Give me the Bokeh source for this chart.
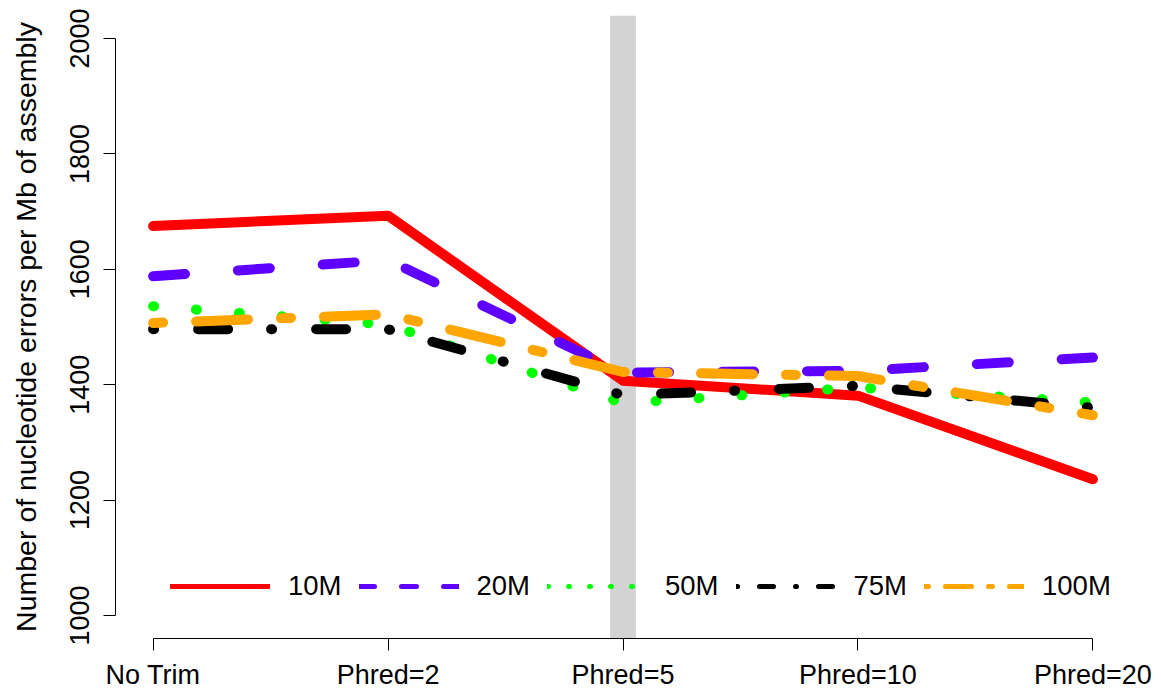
from bokeh.plotting import figure
from bokeh.models import Range1d, FixedTicker, BoxAnnotation, Legend, LegendItem
from bokeh.embed import file_html
from bokeh.resources import INLINE

# ---- data ----
categories = ["No Trim", "Phred=2", "Phred=5", "Phred=10", "Phred=20"]
series_names = ["10M", "20M", "50M", "75M", "100M"]
s10 = [1675, 1693, 1407, 1381, 1236]
s20 = [1588, 1616, 1421, 1424, 1447]
s50 = [1536, 1504, 1368, 1395, 1369]
s75 = [1496, 1496, 1382, 1398, 1360]
s100 = [1507, 1522, 1422, 1415, 1347]
y_ticks = [1000, 1200, 1400, 1600, 1800, 2000]
highlight = "Phred=5"

# ---- styles ----
colors = ["#FF0000", "#5F00FF", "#00FF00", "#000000", "#FFA500"]
plot_dash = ["solid", "32 53", "1 42", "1 44 30 43", "10 33 52 33"]
legend_dash = ["solid", "15 27", "1 20", "1 22 14 22", "4 17 26 17"]
FONT = "Liberation Sans"

xs = list(range(1, len(categories) + 1))
series = [s10, s20, s50, s75, s100]

p = figure(width=1161, height=692, output_backend="svg", toolbar_location=None,
           x_range=Range1d(0.84, 5.16), y_range=Range1d(960, 2040),
           min_border_left=115, min_border_right=31, min_border_top=15,
           min_border_bottom=54)
p.outline_line_color = None
p.grid.visible = False
p.background_fill_color = "white"
p.border_fill_color = "white"

hx = categories.index(highlight) + 1
p.add_layout(BoxAnnotation(left=hx - 0.055, right=hx + 0.055,
                           fill_color="#D3D3D3", fill_alpha=1.0,
                           line_color=None, level="underlay"))

for s, c, d in zip(series, colors, plot_dash):
    p.line(xs, s, line_color=c, line_width=10, line_dash=d,
           line_cap="round", line_join="round")

# legend: hidden renderers carrying the legend's own (smaller) line styling
items = []
for name, s, c, d in zip(series_names, series, colors, legend_dash):
    r = p.line(xs, s, line_color=c, line_width=5, line_dash=d,
               line_cap="round", line_join="round", visible=False)
    items.append(LegendItem(label=name, renderers=[r]))
legend = Legend(items=items, orientation="horizontal", location=(55, 36),
                glyph_width=100, glyph_height=20, label_standoff=18, spacing=17,
                padding=0, margin=0, border_line_color=None,
                background_fill_alpha=0, inactive_fill_alpha=0,
                label_text_font_size="27.5px",
                label_text_font=FONT, label_text_color="black")
p.add_layout(legend)

# x axis
xa = p.xaxis[0]
xa.ticker = FixedTicker(ticks=xs)
xa.major_label_overrides = {i: c for i, c in zip(xs, categories)}
xa.bounds = (xs[0], xs[-1])
xa.major_tick_out = 12
xa.major_tick_in = 0
xa.minor_tick_out = 0
xa.minor_tick_in = 0
xa.major_label_standoff = 9
xa.major_label_text_font_size = "27px"
xa.major_label_text_font = FONT
xa.major_label_text_color = "black"
xa.axis_line_color = "black"
xa.major_tick_line_color = "black"

# y axis
ya = p.yaxis[0]
ya.ticker = FixedTicker(ticks=y_ticks)
ya.bounds = (y_ticks[0], y_ticks[-1])
ya.major_tick_out = 12
ya.major_tick_in = 0
ya.minor_tick_out = 0
ya.minor_tick_in = 0
ya.major_label_orientation = "parallel"
ya.major_label_standoff = 14
ya.major_label_text_font_size = "27px"
ya.major_label_text_font = FONT
ya.major_label_text_color = "black"
ya.axis_label = "Number of nucleotide errors per Mb of assembly"
ya.axis_label_text_font_size = "28.5px"
ya.axis_label_text_font = FONT
ya.axis_label_text_font_style = "normal"
ya.axis_label_text_color = "black"
ya.axis_label_standoff = 26
ya.axis_line_color = "black"
ya.major_tick_line_color = "black"

open("out.html", "w").write(file_html(p, INLINE))
